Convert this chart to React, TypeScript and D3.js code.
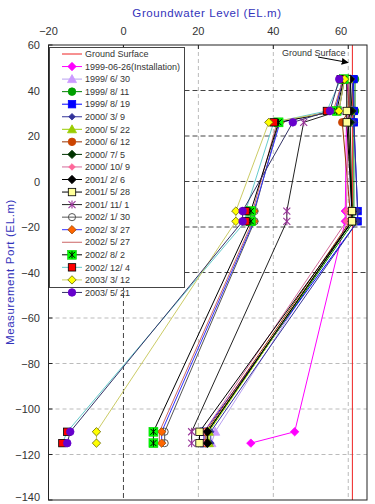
import React from 'react';
import * as d3 from 'd3';

// ---------------- data ----------------
const portLevels = [45, 31, 26, -13, -17.5, -110, -115];
const groundSurfaceLevel = 61.1;
const groundSurfaceSpan = [60, -140];

const seriesNames = [
  '1999-06-26(Installation)',
  '1999/ 6/ 30',
  '1999/ 8/ 11',
  '1999/ 8/ 19',
  '2000/ 3/ 9',
  '2000/ 5/ 22',
  '2000/ 6/ 12',
  '2000/ 7/ 5',
  '2000/ 10/ 9',
  '2001/ 2/ 6',
  '2001/ 5/ 28',
  '2001/ 11/ 1',
  '2002/ 1/ 30',
  '2002/ 3/ 27',
  '2002/ 5/ 27',
  '2002/ 8/ 2',
  '2002/ 12/ 4',
  '2003/ 3/ 12',
  '2003/ 5/ 21',
];

const s19990626 = [59.5, 60.5, 59.5, 59.2, 59.2, 45.7, 34];
const s19990630 = [60.5, 61, 60.5, 60.5, 60.5, 24.5, 23.5];
const s19990811 = [61.8, 61.8, 61.5, 61.5, 61.5, 22.5, 22.5];
const s19990819 = [61.4, 61.5, 61.5, 62.5, 62.5, 21.5, 21.5];
const s20000309 = [61, 61.5, 61.5, 62.5, 62.5, 23.3, 23.3];
const s20000522 = [60, 60.5, 60, 61, 61, 22.8, 22.8];
const s20000612 = [60, 60, 58.4, 60.5, 60.5, 22, 22];
const s20000705 = [60.5, 61, 60.5, 61, 61, 22.4, 22.4];
const s20001009 = [60, 60.5, 60, 59.5, 59.5, 21.5, 21.5];
const s20010206 = [60.5, 60.5, 60, 61, 61, 22.4, 22.4];
const s20010528 = [59.6, 59.6, 59.6, 61, 61, 20.3, 20.3];
const s20011101 = [59, 57.5, 48.1, 43.6, 43.6, 18.2, 18.2];
const s20020130 = [58.5, 56.5, 41.5, 35, 35, 11, 11];
const s20020327 = [58.5, 56.5, 41.8, 34.8, 34.8, 10.2, 10.2];
const s20020527 = [58.6, 56, 41, 34.5, 34.5, 9.6, 9.6];
const s20020802 = [58.8, 56.9, 41.4, 34, 34, 8, 8];
const s20021204 = [58, 54.3, 40.1, 32.6, 32.6, -15, -16.3];
const s20030312 = [59, 57.5, 38.8, 30, 30, -7.2, -7.2];
const s20030521 = [57.6, 55.1, 45.2, 31.8, 31.8, -14.2, -15];

const seriesValues = [
  s19990626, s19990630, s19990811, s19990819, s20000309, s20000522, s20000612,
  s20000705, s20001009, s20010206, s20010528, s20011101, s20020130, s20020327,
  s20020527, s20020802, s20021204, s20030312, s20030521,
];

const xTicks = [-20, 0, 20, 40, 60];
const yTicks = [60, 40, 20, 0, -20, -40, -60, -80, -100, -120, -140];

// ---------------- styles ----------------
const lineColors = [
  '#ff00ff', '#b8a0f0', '#008000', '#0000ff', '#333399', '#99cc00', '#993300',
  '#003300', '#d36a9a', '#000000', '#000000', '#222222', '#555555', '#3333ff',
  '#cc6666', '#000000', '#66cccc', '#cccc66', '#333366',
];
const markerKinds = [
  'diamond', 'triangle', 'circle', 'square', 'sdiamond', 'triangle', 'circle',
  'diamond', 'sdiamond', 'diamond', 'square', 'star', 'ocircle', 'diamond',
  'none', 'gstar', 'square', 'diamond', 'circle',
];
const markerFills = [
  '#ff00ff', '#cc99ff', '#00a000', '#0000ff', '#333399', '#99cc00', '#cc4400',
  '#003300', '#ff6699', '#000000', '#ffff99', '#993399', 'none', '#ff6600',
  'none', '#00ff00', '#ff0000', '#ffff00', '#6600cc',
];
const markerStrokes = [
  '#ff00ff', '#cc99ff', '#00a000', '#0000ff', '#333399', '#99cc00', '#cc4400',
  '#003300', '#ff6699', '#000000', '#000000', '#993399', '#555555', '#994400',
  'none', '#000000', '#000000', '#666600', '#6600cc',
];

const FONT = "'Liberation Sans', Arial, sans-serif";

function Marker({ kind, cx, cy, fill, stroke }: any) {
  switch (kind) {
    case 'diamond':
      return <path d={`M${cx},${cy - 4.2}L${cx + 4.2},${cy}L${cx},${cy + 4.2}L${cx - 4.2},${cy}Z`} fill={fill} stroke={stroke} strokeWidth={0.8} />;
    case 'sdiamond':
      return <path d={`M${cx},${cy - 3.3}L${cx + 3.3},${cy}L${cx},${cy + 3.3}L${cx - 3.3},${cy}Z`} fill={fill} stroke={stroke} strokeWidth={0.8} />;
    case 'triangle':
      return <path d={`M${cx},${cy - 4.5}L${cx + 4.5},${cy + 3.5}L${cx - 4.5},${cy + 3.5}Z`} fill={fill} stroke={stroke} strokeWidth={0.8} />;
    case 'circle':
      return <circle cx={cx} cy={cy} r={3.8} fill={fill} stroke={stroke} strokeWidth={0.8} />;
    case 'ocircle':
      return <circle cx={cx} cy={cy} r={3.6} fill="none" stroke={stroke} strokeWidth={1} />;
    case 'square':
      return <rect x={cx - 3.7} y={cy - 3.7} width={7.4} height={7.4} fill={fill} stroke={stroke} strokeWidth={0.8} />;
    case 'star':
      return (
        <g stroke={stroke} strokeWidth={1.1}>
          <line x1={cx - 3.5} y1={cy - 3.5} x2={cx + 3.5} y2={cy + 3.5} />
          <line x1={cx - 3.5} y1={cy + 3.5} x2={cx + 3.5} y2={cy - 3.5} />
          <line x1={cx} y1={cy - 4} x2={cx} y2={cy + 4} />
        </g>
      );
    case 'gstar':
      return (
        <g>
          <rect x={cx - 4.5} y={cy - 4.5} width={9} height={9} fill={fill} stroke="#00cc00" strokeWidth={0.5} />
          <g stroke={stroke} strokeWidth={1}>
            <line x1={cx - 3} y1={cy - 3} x2={cx + 3} y2={cy + 3} />
            <line x1={cx - 3} y1={cy + 3} x2={cx + 3} y2={cy - 3} />
            <line x1={cx} y1={cy - 3.5} x2={cx} y2={cy + 3.5} />
          </g>
        </g>
      );
    default:
      return null;
  }
}

export default function App() {
  const W = 375, H = 504;
  const x = d3.scaleLinear().domain([-20, 65]).range([48.5, 367]);
  const y = d3.scaleLinear().domain([-140, 60]).range([500, 45]);
  const line = d3.line<number>().x((d) => x(d)).y((_, i) => y(portLevels[i]));

  const darkH = [40, 20, 0, -20, -40];
  const lightH = [-60, -80, -100, -120];
  const darkV = [0];
  const lightV = [20, 40, 60];

  const legendX = 49.5, legendY = 47.5, legendW = 135, legendH = 240;
  const rowY0 = 54, rowStep = 12.55;

  return (
    <svg width={W} height={H} style={{ position: 'absolute', left: 0, top: 0, background: '#fff' }} fontFamily={FONT}>
      <defs>
        <marker id="arr" viewBox="0 0 10 10" refX="9" refY="5" markerWidth="7" markerHeight="7" orient="auto">
          <path d="M0,0L10,5L0,10Z" fill="#000" />
        </marker>
      </defs>
      <rect x={0} y={0} width={W} height={H} fill="#fff" />
      {/* title */}
      <text x={207} y={16.5} textAnchor="middle" fontSize={11.5} fill="#3333bb" letterSpacing={0.6}>
        Groundwater Level (EL.m)
      </text>
      <text transform={`translate(14,272) rotate(-90)`} textAnchor="middle" fontSize={11.5} fill="#3333bb" letterSpacing={0.6}>
        Measurement Port (EL.m)
      </text>
      {/* x tick labels */}
      {xTicks.map((t, i) => (
        <text key={t} x={i === xTicks.length - 1 ? x(t) - 1 : x(t)} y={35} textAnchor={i === xTicks.length - 1 ? 'end' : 'middle'} fontSize={11} fill="#333">
          {t < 0 ? `\u2212${Math.abs(t)}` : t}
        </text>
      ))}
      {/* y tick labels */}
      {yTicks.map((t) => (
        <text key={t} x={40} y={Math.min(y(t) + 4, 501)} textAnchor="end" fontSize={11} fill="#333">
          {t < 0 ? `\u2212${Math.abs(t)}` : t}
        </text>
      ))}
      {/* grid */}
      {lightH.map((t) => (
        <line key={'lh' + t} x1={x(-20)} x2={x(65)} y1={y(t)} y2={y(t)} stroke="#bbb" strokeDasharray="4,3" />
      ))}
      {lightV.map((t) => (
        <line key={'lv' + t} x1={x(t)} x2={x(t)} y1={y(60)} y2={y(-140)} stroke="#bbb" strokeDasharray="4,3" />
      ))}
      {darkH.map((t) => (
        <line key={'dh' + t} x1={x(-20)} x2={x(65)} y1={y(t)} y2={y(t)} stroke="#444" strokeDasharray="5,3" />
      ))}
      {darkV.map((t) => (
        <line key={'dv' + t} x1={x(t)} x2={x(t)} y1={y(60)} y2={y(-140)} stroke="#444" strokeDasharray="5,3" />
      ))}
      {/* ground surface */}
      <line x1={x(groundSurfaceLevel)} x2={x(groundSurfaceLevel)} y1={y(groundSurfaceSpan[0])} y2={y(groundSurfaceSpan[1])} stroke="#ee2222" strokeWidth={1} />
      {/* series lines */}
      {seriesValues.map((vals, si) => (
        <path key={'l' + si} d={line(vals) || ''} fill="none" stroke={lineColors[si]} strokeWidth={1} />
      ))}
      {/* markers */}
      {seriesValues.map((vals, si) => (
        <g key={'m' + si}>
          {vals.map((v, i) => (
            <Marker key={i} kind={markerKinds[si]} cx={x(v)} cy={y(portLevels[i])} fill={markerFills[si]} stroke={markerStrokes[si]} />
          ))}
        </g>
      ))}
      {/* annotation */}
      <text x={282} y={55.5} fontSize={9} fill="#333">Ground Surface</text>
      <line x1={318} y1={57} x2={348} y2={62.5} stroke="#000" strokeWidth={1} markerEnd="url(#arr)" />
      {/* frame */}
      <rect x={48.5} y={45} width={367 - 48.5} height={455} fill="none" stroke="#222" strokeWidth={1} />
      {xTicks.map((t) => (
        <line key={'xt' + t} x1={x(t)} x2={x(t)} y1={45} y2={49} stroke="#222" />
      ))}
      {yTicks.map((t) => (
        <line key={'yt' + t} x1={48.5} x2={52.5} y1={y(t)} y2={y(t)} stroke="#222" />
      ))}
      {/* legend */}
      <rect x={legendX} y={legendY} width={legendW} height={legendH} fill="#fff" stroke="#444" strokeWidth={1} />
      <g>
        <line x1={62} x2={82} y1={rowY0} y2={rowY0} stroke="#ee2222" />
        <text x={85} y={rowY0 + 3.2} fontSize={9} fill="#333">Ground Surface</text>
      </g>
      {seriesNames.map((n, si) => {
        const ry = rowY0 + rowStep * (si + 1);
        return (
          <g key={'lg' + si}>
            <line x1={62} x2={82} y1={ry} y2={ry} stroke={lineColors[si]} />
            <Marker kind={markerKinds[si]} cx={72} cy={ry} fill={markerFills[si]} stroke={markerStrokes[si]} />
            <text x={85} y={ry + 3.2} fontSize={9} fill="#333">{n}</text>
          </g>
        );
      })}
    </svg>
  );
}
